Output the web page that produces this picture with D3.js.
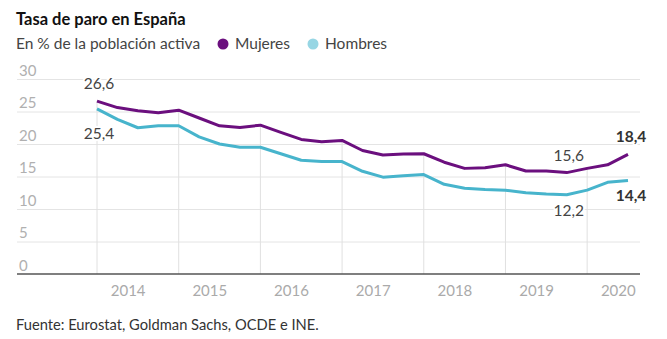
<!DOCTYPE html>
<html>
<head>
<meta charset="utf-8">
<title>Tasa de paro en España</title>
<script src="https://d3js.org/d3.v7.min.js"></script>
<style>
  body { margin: 0; background: #fff; }
  svg { font-family: Lato, "Open Sans", sans-serif; }
</style>
</head>
<body>
<div id="chart"></div>
<script>
// quarterly unemployment rate (%), 2014-T1 .. 2020-T3
var quarters = [
  "2014-T1","2014-T2","2014-T3","2014-T4",
  "2015-T1","2015-T2","2015-T3","2015-T4",
  "2016-T1","2016-T2","2016-T3","2016-T4",
  "2017-T1","2017-T2","2017-T3","2017-T4",
  "2018-T1","2018-T2","2018-T3","2018-T4",
  "2019-T1","2019-T2","2019-T3","2019-T4",
  "2020-T1","2020-T2","2020-T3"
];
var mujeres = [
  26.6, 25.6, 25.1, 24.8,
  25.2, 24.0, 22.8, 22.55,
  22.9, 21.8, 20.7, 20.35,
  20.55, 19.0, 18.3, 18.45,
  18.5, 17.2, 16.25, 16.35,
  16.8, 15.85, 15.85, 15.6,
  16.25, 16.8, 18.4
];
var hombres = [
  25.4, 23.8, 22.5, 22.8,
  22.8, 21.1, 20.0, 19.5,
  19.5, 18.5, 17.5, 17.3,
  17.3, 15.8, 14.9, 15.1,
  15.3, 13.8, 13.2, 13.0,
  12.9, 12.5, 12.3, 12.2,
  12.9, 14.1, 14.4
];
var years = [2014, 2015, 2016, 2017, 2018, 2019, 2020];
var yTicks = [0, 5, 10, 15, 20, 25, 30];

// value labels: [series, quarter index, position, bold]
var valueLabels = [
  ["mujeres", 0, "above", false],
  ["hombres", 0, "below", false],
  ["mujeres", 23, "above", false],
  ["hombres", 23, "below", false],
  ["mujeres", 26, "above", true],
  ["hombres", 26, "below", true]
];

var purple = "#6b0f7e";
var cyan = "#47b4cc";
var cyanLight = "#97d6e4";

var W = 667, H = 339;
var plotLeft = 17, plotRight = 640, plotTop = 79, plotBottom = 274;

var svg = d3.select("#chart").append("svg")
  .attr("width", W)
  .attr("height", H);

var x = d3.scaleLinear()
  .domain([0, quarters.length - 1])
  .range([97, 628]);

var y = d3.scaleLinear()
  .domain([0, 30])
  .range([plotBottom, plotTop]);

// title + subtitle + legend
svg.append("text")
  .attr("x", 16).attr("y", 25)
  .style("font-size", "16.5px").style("font-weight", "bold")
  .style("fill", "#111")
  .text("Tasa de paro en España");

svg.append("text")
  .attr("x", 16).attr("y", 49)
  .style("font-size", "15.5px")
  .style("fill", "#444")
  .text("En % de la población activa");

var legend = [
  { name: "Mujeres", color: purple, cx: 223 },
  { name: "Hombres", color: cyanLight, cx: 313 }
];
legend.forEach(function(d) {
  svg.append("circle")
    .attr("cx", d.cx).attr("cy", 44).attr("r", 5.5)
    .style("fill", d.color);
  svg.append("text")
    .attr("x", d.cx + 12).attr("y", 49)
    .style("font-size", "15.5px")
    .style("fill", "#444")
    .text(d.name);
});

// horizontal grid + y labels
var yAxis = svg.append("g")
  .attr("transform", "translate(" + plotLeft + ",0)")
  .call(d3.axisRight(y).tickValues(yTicks).tickSize(plotRight - plotLeft).tickFormat(d3.format("d")));
yAxis.select(".domain").remove();
yAxis.selectAll(".tick line")
  .style("stroke", function(d) { return d === 0 ? "none" : "#e4e4e4"; });
yAxis.selectAll(".tick text")
  .attr("x", 2).attr("dy", -4)
  .attr("text-anchor", "start")
  .style("font-family", "Lato, sans-serif")
  .style("font-size", "15px")
  .style("fill", "#b0b0b0");

// drop lines at the first quarter of each year
var q1 = d3.range(0, quarters.length, 4);
svg.selectAll(".drop")
  .data(q1)
  .enter().append("line")
  .attr("class", "drop")
  .attr("x1", function(i) { return x(i); })
  .attr("x2", function(i) { return x(i); })
  .attr("y1", function(i) { return y(mujeres[i]); })
  .attr("y2", plotBottom)
  .style("stroke", "#e0e0e0")
  .style("stroke-width", 1);

// baseline
svg.append("line")
  .attr("x1", plotLeft).attr("x2", plotRight)
  .attr("y1", plotBottom).attr("y2", plotBottom)
  .style("stroke", "#555")
  .style("stroke-width", 1.6);

// year labels centred on each year's quarters
var xAxis = svg.append("g")
  .attr("transform", "translate(0," + plotBottom + ")")
  .call(d3.axisBottom(x)
    .tickValues(years.map(function(yr, k) { return k * 4 + 1.5; }))
    .tickSize(0)
    .tickFormat(function(v, k) { return years[k]; }));
xAxis.select(".domain").remove();
xAxis.selectAll(".tick text")
  .attr("y", 11).attr("dy", "0.71em")
  .style("font-family", "Lato, sans-serif")
  .style("font-size", "15px")
  .style("fill", "#aaa");

// lines
var line = d3.line()
  .x(function(d, i) { return x(i); })
  .y(function(d) { return y(d); });

svg.append("path")
  .datum(hombres)
  .attr("d", line)
  .style("fill", "none")
  .style("stroke", cyan)
  .style("stroke-width", 3)
  .style("stroke-linejoin", "round");

svg.append("path")
  .datum(mujeres)
  .attr("d", line)
  .style("fill", "none")
  .style("stroke", purple)
  .style("stroke-width", 3)
  .style("stroke-linejoin", "round");

// value labels
var series = { mujeres: mujeres, hombres: hombres };
var fmt = function(v) { return d3.format(".1f")(v).replace(".", ","); };
valueLabels.forEach(function(l) {
  var v = series[l[0]][l[1]];
  var lx = x(l[1]) + (l[1] === quarters.length - 1 ? 3 : 2);
  var ly = l[2] === "above" ? y(v) - 12 : y(v) + (l[1] === 0 ? 30 : 21);
  svg.append("text")
    .attr("x", lx).attr("y", ly)
    .attr("text-anchor", "middle")
    .style("font-size", "15.5px")
    .style("font-weight", l[3] ? "bold" : "normal")
    .style("fill", l[3] ? "#333" : "#444")
    .style("stroke", "#fff").style("stroke-width", 4)
    .style("paint-order", "stroke")
    .text(fmt(v));
});

// source
svg.append("text")
  .attr("x", 16).attr("y", 330)
  .style("font-size", "14.7px")
  .style("fill", "#333")
  .text("Fuente: Eurostat, Goldman Sachs, OCDE e INE.");
</script>
</body>
</html>
